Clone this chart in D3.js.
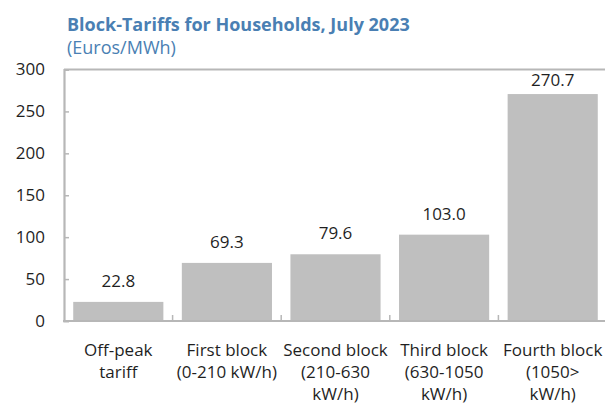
<!DOCTYPE html>
<html>
<head>
<meta charset="utf-8">
<script src="https://cdn.jsdelivr.net/npm/d3@7"></script>
<style>
  html, body { margin: 0; padding: 0; background: #fff; }
  svg { display: block; font-family: "Open Sans", "Noto Sans", sans-serif; }
</style>
</head>
<body>
<svg id="chart" width="605" height="408"></svg>
<script>
// Tariff blocks and their prices (Euros/MWh)
const categories = [
  ["Off-peak", "tariff"],
  ["First block", "(0-210 kW/h)"],
  ["Second block", "(210-630", "kW/h)"],
  ["Third block", "(630-1050", "kW/h)"],
  ["Fourth block", "(1050>", "kW/h)"]
];
const values = [22.8, 69.3, 79.6, 103.0, 270.7];
const yTicks = [0, 50, 100, 150, 200, 250, 300];
const titleText = "Block-Tariffs for Households, July 2023";
const subtitleText = "(Euros/MWh)";

const svg = d3.select("#chart");
const margin = { left: 64, right: -2, top: 69.5, bottom: 321 };
const axisColor = "#b7b7b7";
const barColor = "#bfbfbf";
const textColor = "#1f1f1f";
const blue = "#4a7fb3";
const labelSize = 17;

const x = d3.scaleBand()
  .domain(d3.range(categories.length))
  .range([margin.left, 605 - margin.right])
  .paddingInner(0.17)
  .paddingOuter(0.085);

const y = d3.scaleLinear().domain([0, 300]).range([margin.bottom, margin.top]);

// Title block
svg.append("text")
  .attr("x", 67).attr("y", 31)
  .attr("fill", blue)
  .attr("font-size", 18).attr("font-weight", 700)
  .text(titleText);
svg.append("text")
  .attr("x", 67).attr("y", 54)
  .attr("fill", blue)
  .attr("font-size", 18)
  .text(subtitleText);

// Bars
svg.append("g").selectAll("rect")
  .data(values)
  .join("rect")
  .attr("x", (d, i) => x(i))
  .attr("y", d => y(d))
  .attr("width", x.bandwidth())
  .attr("height", d => y(0) - y(d))
  .attr("fill", barColor);

// Value labels above bars, kept inside the plot frame
svg.append("g").selectAll("text")
  .data(values)
  .join("text")
  .attr("x", (d, i) => x(i) + x.bandwidth() / 2)
  .attr("y", d => Math.max(y(d) - 15, margin.top + 16.5))
  .attr("text-anchor", "middle")
  .attr("font-size", labelSize)
  .attr("fill", textColor)
  .text(d => d.toFixed(1));

// Frame: top border line
svg.append("line")
  .attr("x1", margin.left).attr("x2", 605)
  .attr("y1", margin.top).attr("y2", margin.top)
  .attr("stroke", axisColor).attr("stroke-width", 2);

// Y axis with inward ticks
const yAxis = d3.axisRight(y).tickValues(yTicks).tickSize(5).tickFormat("");
const yg = svg.append("g").attr("transform", `translate(${margin.left},0)`).call(yAxis);
yg.select(".domain").attr("stroke", axisColor).attr("stroke-width", 2.2);
yg.selectAll(".tick line").attr("stroke", axisColor).attr("stroke-width", 1.5);
yg.selectAll(".tick").filter(d => d === 0 || d === 300).remove();

// Y tick labels
svg.append("g").selectAll("text")
  .data(yTicks)
  .join("text")
  .attr("x", 45)
  .attr("y", d => y(d))
  .attr("dy", "0.35em")
  .attr("text-anchor", "end")
  .attr("font-size", labelSize)
  .attr("fill", textColor)
  .text(d => d);

// X axis baseline with small separator ticks between categories
const sepPositions = d3.range(1, categories.length).map(i => x(i) - x.step() * x.paddingInner() / 2);
svg.append("line")
  .attr("x1", margin.left - 1).attr("x2", 605)
  .attr("y1", y(0)).attr("y2", y(0))
  .attr("stroke", axisColor).attr("stroke-width", 2.2);
svg.append("g").selectAll("line")
  .data(sepPositions)
  .join("line")
  .attr("x1", d => d).attr("x2", d => d)
  .attr("y1", y(0)).attr("y2", y(0) - 6)
  .attr("stroke", axisColor).attr("stroke-width", 1.5);

// Category labels (multi-line)
const catG = svg.append("g").selectAll("text")
  .data(categories)
  .join("text")
  .attr("text-anchor", "middle")
  .attr("font-size", labelSize)
  .attr("fill", textColor);
catG.selectAll("tspan")
  .data((d, i) => d.map(line => ({ line, i })))
  .join("tspan")
  .attr("x", d => x(d.i) + x.bandwidth() / 2)
  .attr("y", (d, j) => 356 + j * 22)
  .text(d => d.line);
</script>
</body>
</html>
